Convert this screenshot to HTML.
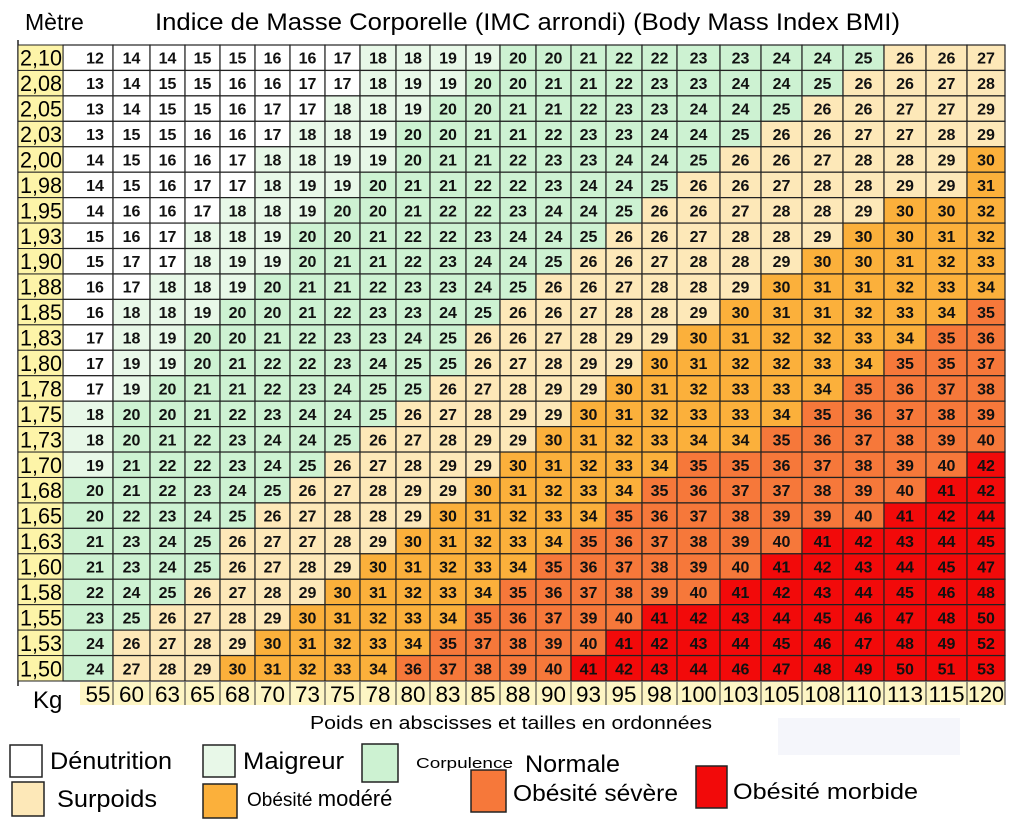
<!DOCTYPE html>
<html><head><meta charset="utf-8">
<style>
html,body{margin:0;padding:0;background:#fff;}
svg{display:block;}
text{font-family:"Liberation Sans",sans-serif;}
.num{font-family:"Liberation Sans Narrow","Liberation Sans",sans-serif;font-weight:bold;font-size:16px;fill:#111;}
</style></head>
<body>
<svg id="chart" width="1024" height="819" viewBox="0 0 1024 819">
<text x="25" y="30" font-size="23">Mètre</text>
<text x="155" y="30" font-size="24" textLength="745" lengthAdjust="spacingAndGlyphs">Indice de Masse Corporelle (IMC arrondi) (Body Mass Index BMI)</text>
<g id="cells"></g>
<g id="rowlabels"></g>
<g id="collabels"></g>
<text x="33" y="708" font-size="24">Kg</text>
<text x="310" y="729" font-size="18" textLength="402" lengthAdjust="spacingAndGlyphs">Poids en abscisses et tailles en ordonnées</text>
<rect x="778" y="718" width="182" height="37" fill="#f5f6fb"/>
<g id="legend">
 <rect x="10" y="745" width="32" height="32" fill="#fff" stroke="#222" stroke-width="1.5"/>
 <text x="50" y="769" font-size="24" textLength="122" lengthAdjust="spacingAndGlyphs">Dénutrition</text>
 <rect x="203" y="745" width="32" height="32" fill="#e8f8e8" stroke="#222" stroke-width="1.5"/>
 <text x="243" y="769" font-size="24" textLength="101" lengthAdjust="spacingAndGlyphs">Maigreur</text>
 <rect x="362" y="744" width="36" height="38" fill="#cdf2d2" stroke="#222" stroke-width="1.5"/>
 <text x="416" y="768" font-size="15" textLength="97" lengthAdjust="spacingAndGlyphs">Corpulence</text>
 <text x="525" y="772" font-size="24" textLength="95" lengthAdjust="spacingAndGlyphs">Normale</text>
 <rect x="12" y="782" width="32" height="34" fill="#fde8b8" stroke="#222" stroke-width="1.5"/>
 <text x="57" y="807" font-size="24" textLength="100" lengthAdjust="spacingAndGlyphs">Surpoids</text>
 <rect x="203" y="784" width="34" height="34" fill="#fbb03b" stroke="#222" stroke-width="1.5"/>
 <text x="247" y="806" font-size="19">Obésité  <tspan font-size="22">modéré</tspan></text>
 <rect x="471" y="770" width="35" height="42" fill="#f6783a" stroke="#222" stroke-width="1.5"/>
 <text x="513" y="801" font-size="23" textLength="165" lengthAdjust="spacingAndGlyphs">Obésité sévère</text>
 <rect x="696" y="766" width="31" height="42" fill="#f20a0a" stroke="#222" stroke-width="1.5"/>
 <text x="733" y="799" font-size="22" textLength="185" lengthAdjust="spacingAndGlyphs">Obésité  morbide</text>
</g>
</svg>
<script>
const heights = ["2,10","2,08","2,05","2,03","2,00","1,98","1,95","1,93","1,90","1,88","1,85","1,83","1,80","1,78","1,75","1,73","1,70","1,68","1,65","1,63","1,60","1,58","1,55","1,53","1,50"];
const weights = [55,60,63,65,68,70,73,75,78,80,83,85,88,90,93,95,98,100,103,105,108,110,113,115,120];
const bmiRows = [
[12,14,14,15,15,16,16,17,18,18,19,19,20,20,21,22,22,23,23,24,24,25,26,26,27],
[13,14,15,15,16,16,17,17,18,19,19,20,20,21,21,22,23,23,24,24,25,26,26,27,28],
[13,14,15,15,16,17,17,18,18,19,20,20,21,21,22,23,23,24,24,25,26,26,27,27,29],
[13,15,15,16,16,17,18,18,19,20,20,21,21,22,23,23,24,24,25,26,26,27,27,28,29],
[14,15,16,16,17,18,18,19,19,20,21,21,22,23,23,24,24,25,26,26,27,28,28,29,30],
[14,15,16,17,17,18,19,19,20,21,21,22,22,23,24,24,25,26,26,27,28,28,29,29,31],
[14,16,16,17,18,18,19,20,20,21,22,22,23,24,24,25,26,26,27,28,28,29,30,30,32],
[15,16,17,18,18,19,20,20,21,22,22,23,24,24,25,26,26,27,28,28,29,30,30,31,32],
[15,17,17,18,19,19,20,21,21,22,23,24,24,25,26,26,27,28,28,29,30,30,31,32,33],
[16,17,18,18,19,20,21,21,22,23,23,24,25,26,26,27,28,28,29,30,31,31,32,33,34],
[16,18,18,19,20,20,21,22,23,23,24,25,26,26,27,28,28,29,30,31,31,32,33,34,35],
[17,18,19,20,20,21,22,23,23,24,25,26,26,27,28,29,29,30,31,32,32,33,34,35,36],
[17,19,19,20,21,22,22,23,24,25,25,26,27,28,29,29,30,31,32,32,33,34,35,35,37],
[17,19,20,21,21,22,23,24,25,25,26,27,28,29,29,30,31,32,33,33,34,35,36,37,38],
[18,20,20,21,22,23,24,24,25,26,27,28,29,29,30,31,32,33,33,34,35,36,37,38,39],
[18,20,21,22,23,24,24,25,26,27,28,29,29,30,31,32,33,34,34,35,36,37,38,39,40],
[19,21,22,22,23,24,25,26,27,28,29,29,30,31,32,33,34,35,35,36,37,38,39,40,42],
[20,21,22,23,24,25,26,27,28,29,29,30,31,32,33,34,35,36,37,37,38,39,40,41,42],
[20,22,23,24,25,26,27,28,28,29,30,31,32,33,34,35,36,37,38,39,39,40,41,42,44],
[21,23,24,25,26,27,27,28,29,30,31,32,33,34,35,36,37,38,39,40,41,42,43,44,45],
[21,23,24,25,26,27,28,29,30,31,32,33,34,35,36,37,38,39,40,41,42,43,44,45,47],
[22,24,25,26,27,28,29,30,31,32,33,34,35,36,37,38,39,40,41,42,43,44,45,46,48],
[23,25,26,27,28,29,30,31,32,33,34,35,36,37,39,40,41,42,43,44,45,46,47,48,50],
[24,26,27,28,29,30,31,32,33,34,35,37,38,39,40,41,42,43,44,45,46,47,48,49,52],
[24,27,28,29,30,31,32,33,34,36,37,38,39,40,41,42,43,44,46,47,48,49,50,51,53]
];
const NS = "http://www.w3.org/2000/svg";
const colEdges = [63,113,150,185,220,255,290,325,360,396,430,466,500,536,571,606,642,677,720,761,802,843,884,926,967,1005];
const top0 = 45, rowH = 25.44;
function colX(i){return colEdges[i];}
function colW(i){return colEdges[i+1]-colEdges[i];}
function rowY(j){return top0 + j*rowH;}
function colorFor(v){
  if(v<18) return "#ffffff";
  if(v<20) return "#e8f8e8";
  if(v<26) return "#cdf2d2";
  if(v<30) return "#fde8b8";
  if(v<35) return "#fbb03b";
  if(v<41) return "#f6783a";
  return "#f20a0a";
}
function mk(tag, attrs, parent){const e=document.createElementNS(NS,tag);for(const k in attrs)e.setAttribute(k,attrs[k]);parent.appendChild(e);return e;}
const cells = document.getElementById("cells");
bmiRows.forEach((row,j)=>{
  row.forEach((v,i)=>{
    const r = mk("rect",{x:colX(i),y:rowY(j),width:colW(i),height:rowH,fill:colorFor(v),stroke:"#222","stroke-width":1.2},cells);
    
    
    const t = mk("text",{x:colX(i)+colW(i)/2+(i===0?7:0),y:rowY(j)+rowH/2+6,"text-anchor":"middle","class":"num"},cells);
    t.textContent = v;
    
    
  });
});
const rl = document.getElementById("rowlabels");
mk("line",{x1:18,y1:40,x2:18,y2:686,stroke:"#222","stroke-width":1.5},rl);
heights.forEach((h,j)=>{
  const r = mk("rect",{x:18,y:rowY(j),width:45,height:rowH,fill:"#fdf4a8",stroke:"#222","stroke-width":1},rl);
  
  
  const t = mk("text",{x:20,y:rowY(j)+rowH/2+8,"font-size":22,textLength:42,lengthAdjust:"spacingAndGlyphs"},rl);
  t.textContent = h;
  
  
});
const cl = document.getElementById("collabels");
const by = rowY(heights.length)+1;
const bg = mk("rect",{x:80,y:by,width:925,height:23,fill:"#fdf5c4"},cl);


weights.forEach((w,i)=>{
  const ln = mk("line",{x1:colX(i+1),y1:by,x2:colX(i+1),y2:by+23,stroke:"#333","stroke-width":1},cl);
  
  
  const t = mk("text",{x:colX(i)+colW(i)/2+(i===0?10:0),y:by+20,"font-size":22,"text-anchor":"middle",textLength:(w>=100?36:25),lengthAdjust:"spacingAndGlyphs"},cl);
  t.textContent = w;
  
  
});
</script>
</body></html>
